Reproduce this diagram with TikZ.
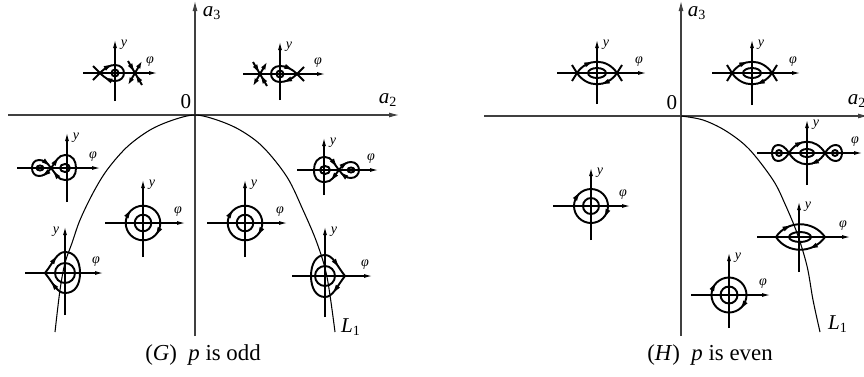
\documentclass[tikz,border=0pt]{standalone}
\usepackage{fontspec}
\setmainfont{Liberation Serif}
\usepackage{tikz}
\usetikzlibrary{arrows.meta}
\tikzset{
  main-axis/.style={draw=black!75,line width=0.6pt,-{Latex[length=2mm,width=1mm]}},
  ph-axis/.style={draw=black,line width=0.6pt,-{Latex[length=1.6mm,width=0.8mm]}},
  orbit/.style={draw=black,line width=1.1pt},
  orbit-out/.style={orbit,-{Latex[length=1.5mm,width=1mm]}},
  flow-tip/.pic={\fill[black] (4,0) -- (-3.5,2.5) -- (-3.5,-2.5) -- cycle;},
  on-flow/.style={pos=#1,sloped,allow upside down},
  curve-l1/.style={draw=black,line width=0.6pt},
  ax-label/.style={font=\fontsize{12}{14}\selectfont,inner sep=0pt},
  ph-label/.style={font=\fontsize{8}{9}\selectfont\itshape,inner sep=0pt},
  caption/.style={font=\fontsize{13}{15}\selectfont,inner sep=0pt},
}
% small phase-plane axes: [y label shift] left, right, top, bottom
\newcommand{\phaxes}[5][9]{%
  \draw[ph-axis] (#2,0) -- (#3,0);
  \draw[ph-axis] (0,#5) -- (0,#4);
  \node[ph-label] (ylab) at (#1,#4+5) {y};
  \node[ph-label] (philab) at (#3-7,-11) {φ};
}

\begin{document}
\begin{tikzpicture}[x=0.02cm,y=-0.02cm]
  \useasboundingbox (0,0) rectangle (864,376);

  % ---------------- (G) p is odd
  \coordinate (g-west) at (8,115);
  \coordinate (g-east) at (399,115);
  \coordinate (g-south) at (195,336);
  \coordinate (g-north) at (195,1);
  \draw[main-axis] (g-west) -- (g-east);
  \draw[main-axis] (g-south) -- (g-north);
  \node[ax-label] (g-a3) at (212,13) {\textit{a}\textsubscript{3}};
  \node[ax-label] (g-a2) at (388,100) {\textit{a}\textsubscript{2}};
  \node[ax-label] (g-zero) at (186,102) {0};
  \draw[curve-l1] plot[smooth,tension=0.55] coordinates {(55,332) (60,290) (65,263)
    (72,243) (80,220) (93,193) (107,170) (127,147) (150,130) (173,120) (195,115)
    (217,120) (240,130) (263,147) (287,177) (303,210) (317,243) (327,277) (335,332)};
  \node[ax-label] (g-l1) at (351,327) {\textit{L}\textsubscript{1}};
  \node[caption] (g-cap) at (203,355) {(\textit{G})\ \ \textit{p} is odd};

  % upper left
  \begin{scope}[shift={(115,73)},name prefix=g1-]
    \phaxes{-32}{42}{-33}{28}
    \draw[orbit] (0,0) circle (3.5);
    \draw[orbit] (-15,0) .. controls (-9,-6) and (-5,-8) .. (0,-8) pic[on-flow=0.5]{flow-tip}
      .. controls (6,-8) and (9,-4) .. (9,0);
    \draw[orbit] (9,0) .. controls (9,4) and (6,8) .. (0,8)
      .. controls (-5,8) and (-9,6) .. (-15,0) pic[on-flow=0.45]{flow-tip};
    \draw[orbit] (-22,-7) -- (-15,0) -- (-22,7);
    \draw[orbit-out] (20,0) -- (27,-12);
    \draw[orbit-out] (20,0) -- (13,12);
    \draw[orbit] (13,-12) -- (20,0) pic[on-flow=0.55]{flow-tip};
    \draw[orbit] (27,12) -- (20,0) pic[on-flow=0.55]{flow-tip};
  \end{scope}

  % upper right
  \begin{scope}[shift={(280,74)},name prefix=g2-]
    \phaxes{-37}{45}{-32}{26}
    \draw[orbit] (0,0) circle (3.5);
    \draw[orbit] (-9,0) .. controls (-9,-4) and (-6,-8) .. (0,-8)
      .. controls (5,-8) and (11,-6) .. (17,0) pic[on-flow=0.5]{flow-tip};
    \draw[orbit] (17,0) .. controls (11,6) and (5,8) .. (0,8) pic[on-flow=0.5]{flow-tip}
      .. controls (-6,8) and (-9,4) .. (-9,0);
    \draw[orbit] (24,-7) -- (17,0) -- (24,7);
    \draw[orbit-out] (-20,0) -- (-13,-12);
    \draw[orbit-out] (-20,0) -- (-27,12);
    \draw[orbit] (-27,-12) -- (-20,0) pic[on-flow=0.55]{flow-tip};
    \draw[orbit] (-13,12) -- (-20,0) pic[on-flow=0.55]{flow-tip};
  \end{scope}

  % middle left, figure eight
  \begin{scope}[shift={(67,168)},name prefix=g3-]
    \phaxes{-50}{33}{-35}{34}
    \draw[orbit] (-16,0) .. controls (-11,-6) and (-9,-13) .. (-2,-13) pic[on-flow=0.35]{flow-tip}
      .. controls (6,-13) and (9,-7) .. (9,0);
    \draw[orbit] (9,0) .. controls (9,7) and (6,12) .. (-2,12)
      .. controls (-9,12) and (-11,6) .. (-16,0) pic[on-flow=0.6]{flow-tip};
    \draw[orbit] (-16,0) .. controls (-20,6) and (-24,8) .. (-28,8) pic[on-flow=0.4]{flow-tip}
      .. controls (-33,8) and (-35,4) .. (-35,0);
    \draw[orbit] (-35,0) .. controls (-35,-4) and (-33,-8) .. (-28,-8)
      .. controls (-24,-8) and (-20,-6) .. (-16,0) pic[on-flow=0.6]{flow-tip};
    \draw[orbit] (-2,0) ellipse (5 and 4);
    \draw[orbit] (-27,0) ellipse (3.5 and 2.5);
  \end{scope}

  % middle right, figure eight
  \begin{scope}[shift={(324,170)},name prefix=g4-]
    \phaxes{-27}{54}{-32}{25}
    \draw[orbit] (-10,0) .. controls (-10,-7) and (-7,-13) .. (1,-13)
      .. controls (8,-13) and (10,-6) .. (15,0) pic[on-flow=0.6]{flow-tip};
    \draw[orbit] (15,0) .. controls (10,6) and (8,12) .. (1,12) pic[on-flow=0.4]{flow-tip}
      .. controls (-7,12) and (-10,8) .. (-10,0);
    \draw[orbit] (15,0) .. controls (19,-6) and (23,-8) .. (27,-8) pic[on-flow=0.4]{flow-tip}
      .. controls (32,-8) and (35,-4) .. (35,0);
    \draw[orbit] (35,0) .. controls (35,4) and (32,8) .. (27,8)
      .. controls (23,8) and (19,6) .. (15,0) pic[on-flow=0.6]{flow-tip};
    \draw[orbit] (1,0) ellipse (5 and 4);
    \draw[orbit] (27,0) ellipse (3.5 and 2.5);
  \end{scope}

  % centres
  \begin{scope}[shift={(143,223)},name prefix=g5-]
    \phaxes{-38}{42}{-43}{34}
    \draw[orbit] (0,0) circle (8.3);
    \draw[orbit] (0,0) circle (17.3);
    \pic[rotate=-118] at (28:17.3) {flow-tip};
    \pic[rotate=59] at (211:17.3) {flow-tip};
  \end{scope}
  \begin{scope}[shift={(245,223)},name prefix=g6-]
    \phaxes{-38}{42}{-43}{34}
    \draw[orbit] (0,0) circle (8.3);
    \draw[orbit] (0,0) circle (17.3);
    \pic[rotate=-118] at (28:17.3) {flow-tip};
    \pic[rotate=59] at (211:17.3) {flow-tip};
  \end{scope}

  % lower left, cusp loop
  \begin{scope}[shift={(65,273)},name prefix=g7-]
    \phaxes[-9]{-40}{38}{-46}{42}
    \draw[orbit] (0,0) circle (10);
    \draw[orbit] (-20,0) .. controls (-12,-10) and (-8,-21) .. (0,-21) pic[on-flow=0.45]{flow-tip}
      .. controls (10,-21) and (15,-12) .. (15,0);
    \draw[orbit] (15,0) .. controls (15,12) and (10,20) .. (0,20)
      .. controls (-8,20) and (-12,10) .. (-20,0) pic[on-flow=0.55]{flow-tip};
  \end{scope}

  % lower right, cusp loop
  \begin{scope}[shift={(325,276)},name prefix=g8-]
    \phaxes{-33}{47}{-49}{41}
    \draw[orbit] (0,0) circle (10);
    \draw[orbit] (-14,0) .. controls (-14,-12) and (-9,-21) .. (0,-21)
      .. controls (8,-21) and (12,-10) .. (20,0) pic[on-flow=0.55]{flow-tip};
    \draw[orbit] (20,0) .. controls (12,10) and (8,21) .. (0,21) pic[on-flow=0.45]{flow-tip}
      .. controls (-9,21) and (-14,12) .. (-14,0);
  \end{scope}

  % ---------------- (H) p is even
  \coordinate (h-west) at (484,116);
  \coordinate (h-east) at (868,116);
  \coordinate (h-south) at (681,336);
  \coordinate (h-north) at (681,1);
  \draw[main-axis] (h-west) -- (h-east);
  \draw[main-axis] (h-south) -- (h-north);
  \node[ax-label] (h-a3) at (697,13) {\textit{a}\textsubscript{3}};
  \node[ax-label] (h-a2) at (857,101) {\textit{a}\textsubscript{2}};
  \node[ax-label] (h-zero) at (672,103) {0};
  \draw[curve-l1] plot[smooth,tension=0.55] coordinates {(681,116) (703,120) (726,131)
    (749,149) (773,180) (785,204) (797,233) (807,266) (813,300) (820,332)};
  \node[ax-label] (h-l1) at (838,324) {\textit{L}\textsubscript{1}};
  \node[caption] (h-cap) at (710,355) {(\textit{H})\ \ \textit{p} is even};

  % upper, two saddles
  \begin{scope}[shift={(597,73)},name prefix=h1-]
    \phaxes{-40}{49}{-33}{31}
    \draw[orbit] (0,0) ellipse (9 and 5);
    \draw[orbit] (-20,0) .. controls (-10,-15) and (10,-15) .. (20,0) pic[on-flow=0.3]{flow-tip};
    \draw[orbit] (20,0) .. controls (10,15) and (-10,15) .. (-20,0) pic[on-flow=0.3]{flow-tip};
    \draw[orbit] (-25,-8) -- (-20,0) -- (-25,8);
    \draw[orbit] (25,-8) -- (20,0) -- (25,8);
  \end{scope}
  \begin{scope}[shift={(752,73)},name prefix=h2-]
    \phaxes{-40}{48}{-33}{32}
    \draw[orbit] (0,0) ellipse (9 and 5);
    \draw[orbit] (-20,0) .. controls (-10,-15) and (10,-15) .. (20,0) pic[on-flow=0.3]{flow-tip};
    \draw[orbit] (20,0) .. controls (10,15) and (-10,15) .. (-20,0) pic[on-flow=0.3]{flow-tip};
    \draw[orbit] (-25,-8) -- (-20,0) -- (-25,8);
    \draw[orbit] (25,-8) -- (20,0) -- (25,8);
  \end{scope}

  % right, lens with side loops
  \begin{scope}[shift={(807,153)},name prefix=h3-]
    \phaxes{-50}{55}{-33}{32}
    \draw[orbit] (0,0) ellipse (7 and 4);
    \draw[orbit] (-18,0) .. controls (-9,-15) and (9,-15) .. (18,0) pic[on-flow=0.3]{flow-tip};
    \draw[orbit] (18,0) .. controls (9,15) and (-9,15) .. (-18,0) pic[on-flow=0.3]{flow-tip};
    \draw[orbit] (-18,0) .. controls (-22,-6) and (-25,-8) .. (-29,-8)
      .. controls (-33,-8) and (-35,-4) .. (-35,0) .. controls (-35,4) and (-33,8) .. (-29,8)
      .. controls (-25,8) and (-22,6) .. (-18,0);
    \draw[orbit] (18,0) .. controls (22,-6) and (25,-8) .. (29,-8)
      .. controls (33,-8) and (35,-4) .. (35,0) .. controls (35,4) and (33,8) .. (29,8)
      .. controls (25,8) and (22,6) .. (18,0);
    \draw[orbit] (-28,0) circle (3);
    \draw[orbit] (28,0) circle (3);
  \end{scope}

  % centres
  \begin{scope}[shift={(591,206)},name prefix=h4-]
    \phaxes{-38}{39}{-38}{34}
    \draw[orbit] (0,0) circle (8);
    \draw[orbit] (0,0) circle (17);
    \pic[rotate=-114] at (24:17) {flow-tip};
    \pic[rotate=56] at (214:17) {flow-tip};
  \end{scope}
  \begin{scope}[shift={(729,295)},name prefix=h5-]
    \phaxes{-38}{41}{-42}{33}
    \draw[orbit] (0,0) circle (8.5);
    \draw[orbit] (0,0) circle (17.5);
    \pic[rotate=-124] at (34:17.5) {flow-tip};
    \pic[rotate=63] at (207:17.5) {flow-tip};
  \end{scope}

  % lower right, lens with cusps
  \begin{scope}[shift={(799,237)},name prefix=h6-]
    \phaxes{-42}{51}{-35}{35}
    \draw[orbit] (1,0) ellipse (11 and 5);
    \draw[orbit] (-23,0) .. controls (-12,-17) and (14,-17) .. (26,0) pic[on-flow=0.25]{flow-tip};
    \draw[orbit] (26,0) .. controls (14,17) and (-12,17) .. (-23,0) pic[on-flow=0.25]{flow-tip};
  \end{scope}
\end{tikzpicture}
\end{document}
